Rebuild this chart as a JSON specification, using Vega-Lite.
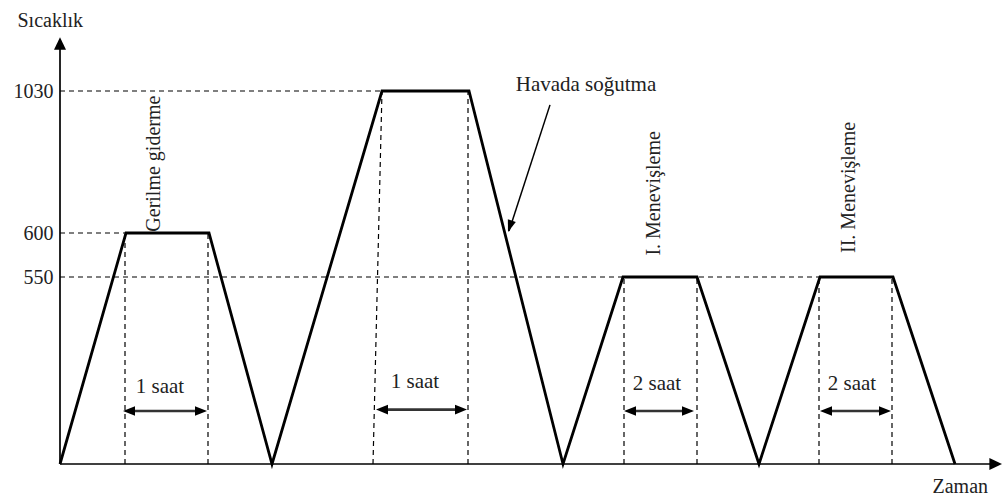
{
  "$schema": "https://vega.github.io/schema/vega-lite/v6.json",
  "width": 943,
  "height": 498,
  "autosize": "none",
  "padding": {"left": 60, "top": 0, "right": 0, "bottom": 0},
  "background": "white",
  "config": {"view": {"stroke": null}, "font": "Liberation Serif"},
  "datasets": {
    "profile": [
      {"t": 0, "temp": 0}, {"t": 66, "temp": 600}, {"t": 149, "temp": 600}, {"t": 212, "temp": 0},
      {"t": 322, "temp": 1030}, {"t": 409, "temp": 1030}, {"t": 503, "temp": 0},
      {"t": 563, "temp": 550}, {"t": 637, "temp": 550}, {"t": 699, "temp": 0},
      {"t": 760, "temp": 550}, {"t": 833, "temp": 550}, {"t": 895, "temp": 0}
    ],
    "hdash": [
      {"t": 0, "t2": 322, "temp": 1030},
      {"t": 0, "t2": 66, "temp": 600},
      {"t": 0, "t2": 760, "temp": 550}
    ],
    "vdash": [
      {"t": 65, "t2": 65, "temp": 0, "temp2": 600},
      {"t": 148, "t2": 148, "temp": 0, "temp2": 600},
      {"t": 313, "t2": 322, "temp": 0, "temp2": 1030},
      {"t": 408, "t2": 408, "temp": 0, "temp2": 1030},
      {"t": 564, "t2": 564, "temp": 0, "temp2": 550},
      {"t": 637, "t2": 637, "temp": 0, "temp2": 550},
      {"t": 759, "t2": 759, "temp": 0, "temp2": 550},
      {"t": 832, "t2": 832, "temp": 0, "temp2": 550}
    ],
    "axislines": [
      {"t": 0, "t2": 0, "temp": 0, "temp2": 1185},
      {"t": 0, "t2": 935, "temp": 0, "temp2": 0}
    ],
    "shafts": [
      {"t": 68, "t2": 142, "temp": 156},
      {"t": 321, "t2": 402, "temp": 160},
      {"t": 569, "t2": 629, "temp": 156},
      {"t": 765, "t2": 826, "temp": 156}
    ],
    "heads": [
      {"t": 63, "temp": 156, "dir": "dleft"}, {"t": 147, "temp": 156, "dir": "dright"},
      {"t": 316, "temp": 160, "dir": "dleft"}, {"t": 407, "temp": 160, "dir": "dright"},
      {"t": 564, "temp": 156, "dir": "dleft"}, {"t": 634, "temp": 156, "dir": "dright"},
      {"t": 760, "temp": 156, "dir": "dleft"}, {"t": 831, "temp": 156, "dir": "dright"},
      {"t": 0, "temp": 1193, "dir": "up"},
      {"t": 942, "temp": 0, "dir": "right"},
      {"t": 448, "temp": 603, "dir": "callout"}
    ],
    "callout": [
      {"t": 490, "t2": 449, "temp": 988, "temp2": 606}
    ],
    "labels": [
      {"label": "1 saat", "t": 100, "temp": 209},
      {"label": "1 saat", "t": 355, "temp": 224},
      {"label": "2 saat", "t": 597, "temp": 218},
      {"label": "2 saat", "t": 792, "temp": 218},
      {"label": "Havada soğutma", "t": 526, "temp": 1030}
    ],
    "vlabels": [
      {"label": "Gerilme giderme", "t": 100, "temp": 810},
      {"label": "I. Menevişleme", "t": 600, "temp": 720},
      {"label": "II. Menevişleme", "t": 795, "temp": 738}
    ]
  },
  "encoding": {
    "x": {
      "field": "t", "type": "quantitative",
      "scale": {"domain": [0, 943], "nice": false, "zero": false},
      "axis": {
        "domain": false, "ticks": false, "labels": false, "grid": false,
        "title": "Zaman", "titleX": 872, "titleY": -6, "titleAlign": "left",
        "titleBaseline": "alphabetic", "titleFont": "Liberation Serif",
        "titleFontSize": 20, "titleFontWeight": "normal", "titleColor": "#222"
      }
    },
    "y": {
      "field": "temp", "type": "quantitative",
      "scale": {"domain": [0, 550, 600, 1030], "range": [464, 277, 233, 91], "nice": false, "zero": false},
      "axis": {
        "values": [550, 600, 1030], "format": "d", "domain": false, "ticks": false, "grid": false,
        "labelFont": "Liberation Serif", "labelFontSize": 20, "labelColor": "#222",
        "labelPadding": 7, "labelBaseline": "middle",
        "title": "Sıcaklık", "titleAngle": 0, "titleX": -43, "titleY": 26,
        "titleAlign": "left", "titleBaseline": "alphabetic",
        "titleFont": "Liberation Serif", "titleFontSize": 20,
        "titleFontWeight": "normal", "titleColor": "#222"
      }
    }
  },
  "layer": [
    {
      "data": {"name": "hdash"},
      "mark": {"type": "rule", "color": "#000", "strokeWidth": 1.2, "strokeDash": [5, 4]},
      "encoding": {"x2": {"field": "t2"}}
    },
    {
      "data": {"name": "vdash"},
      "mark": {"type": "rule", "color": "#000", "strokeWidth": 1.2, "strokeDash": [5, 4]},
      "encoding": {"x2": {"field": "t2"}, "y2": {"field": "temp2"}}
    },
    {
      "data": {"name": "axislines"},
      "mark": {"type": "rule", "color": "#000", "strokeWidth": 1.7},
      "encoding": {"x2": {"field": "t2"}, "y2": {"field": "temp2"}}
    },
    {
      "data": {"name": "shafts"},
      "mark": {"type": "rule", "color": "#333", "strokeWidth": 2.6},
      "encoding": {"x2": {"field": "t2"}}
    },
    {
      "data": {"name": "callout"},
      "mark": {"type": "rule", "color": "#000", "strokeWidth": 1.5},
      "encoding": {"x2": {"field": "t2"}, "y2": {"field": "temp2"}}
    },
    {
      "data": {"name": "profile"},
      "mark": {"type": "line", "color": "#000", "strokeWidth": 2.8, "strokeJoin": "miter"}
    },
    {
      "data": {"name": "heads"},
      "mark": {"type": "point", "filled": true, "color": "#000", "opacity": 1, "size": 144, "strokeWidth": 0},
      "encoding": {
        "shape": {
          "field": "dir", "type": "nominal", "legend": null,
          "scale": {
            "domain": ["up", "right", "dleft", "dright", "callout"],
            "range": [
              "M 0 0 L -1 2.1 L 1 2.1 Z",
              "M 0 0 L -2.1 -1 L -2.1 1 Z",
              "M 0 0 L 2 -0.8 L 2 0.8 Z",
              "M 0 0 L -2 -0.8 L -2 0.8 Z",
              "M 0 0 L 1.301 -1.673 L -0.027 -2.119 Z"
            ]
          }
        }
      }
    },
    {
      "data": {"name": "labels"},
      "mark": {"type": "text", "font": "Liberation Serif", "fontSize": 21, "color": "#222", "align": "center", "baseline": "alphabetic"},
      "encoding": {"text": {"field": "label"}}
    },
    {
      "data": {"name": "vlabels"},
      "mark": {"type": "text", "font": "Liberation Serif", "fontSize": 20, "color": "#222", "align": "center", "baseline": "alphabetic", "angle": 270},
      "encoding": {"text": {"field": "label"}}
    }
  ]
}
